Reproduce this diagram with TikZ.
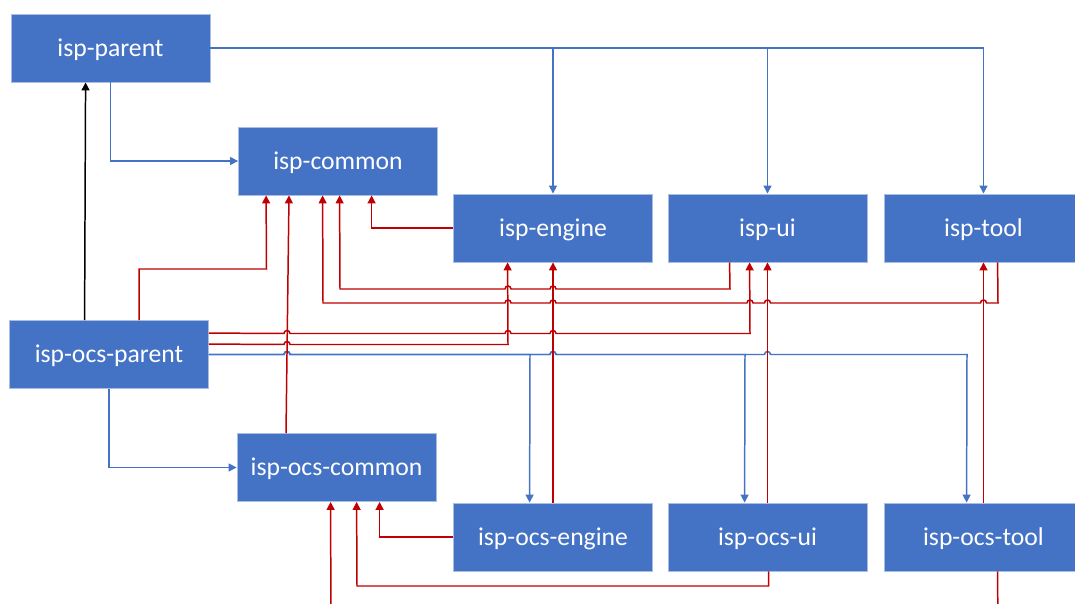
\documentclass[tikz,border=0pt]{standalone}
\usepackage{tikz}
\usepackage{xcolor}
\usepackage{fontspec}
\setmainfont{Carlito}
\usetikzlibrary{arrows.meta, positioning, calc}
\definecolor{boxblue}{RGB}{68,114,196}
\definecolor{boxedge}{RGB}{170,190,225}
\definecolor{linkblue}{RGB}{68,114,196}
\definecolor{linkred}{RGB}{192,0,0}
\tikzset{
    module/.style={rectangle, fill=boxblue, draw=boxedge, line width=0.5pt,
        minimum width=3.98cm, minimum height=1.36cm, inner sep=0pt,
        text height=12pt, text depth=2.4pt,
        text=white, font=\fontsize{14.6}{17}\selectfont},
    inherit/.style={draw=linkblue, line width=0.85pt, -{Triangle[length=4.5pt,width=4.5pt]}},
    depend/.style={draw=linkred, line width=0.85pt, -{Triangle[length=4.5pt,width=4.5pt]}},
    aggregate/.style={draw=black, line width=0.85pt, -{Triangle[length=4.5pt,width=4.5pt]}}
}

\begin{document}
\begin{tikzpicture}[x=0.02cm, y=-0.02cm]
    \useasboundingbox (0,0) rectangle (1075,604);
    \clip (0,0) rectangle (1075,604);

    % modules
    \node[module] (parent) at (110.5,48) {isp-parent};
    \node[module] (common) at (338,161) {isp-common};
    \node[module] (engine) at (553,228) {isp-engine};
    \node[module] (ui) at (767.5,228) {isp-ui};
    \node[module] (tool) at (983.5,228) {isp-tool};
    \node[module] (ocsparent) at (109,354.5) {isp-ocs-parent};
    \node[module] (ocscommon) at (336.5,467.5) {isp-ocs-common};
    \node[module] (ocsengine) at (553,537) {isp-ocs-engine};
    \node[module] (ocsui) at (767.5,537) {isp-ocs-ui};
    \node[module] (ocstool) at (983.5,537) {isp-ocs-tool};

    % isp-parent
    \draw[inherit] (parent.east) -| (engine.north);
    \draw[inherit] (parent.east) -| (ui.north);
    \draw[inherit] (parent.east) -| (tool.north);
    \draw[inherit] (parent.south) |- (common.west);

    % isp-ocs-parent
    \draw[aggregate] ($(ocsparent.north west)+(75.5,0)$) -- ($(parent.south west)+(75,0)$);
    \draw[inherit] (ocsparent.south) |- (ocscommon.west);
    \draw[inherit] (ocsparent.east) -- (284,354.5) arc[start angle=180, end angle=360, radius=3]
        -- (530,354.5) -- ($(ocsengine.north west)+(76.5,0)$);
    \draw[inherit] (ocsparent.east) -- (284,354.5) arc[start angle=180, end angle=360, radius=3]
        -- (550,354.5) arc[start angle=180, end angle=360, radius=3]
        -- (745,354.5) -- ($(ocsui.north west)+(77,0)$);
    \draw[inherit] (ocsparent.east) -- (284,354.5) arc[start angle=180, end angle=360, radius=3]
        -- (550,354.5) arc[start angle=180, end angle=360, radius=3]
        -- (764.5,354.5) arc[start angle=180, end angle=360, radius=3]
        -- (967,354.5) -- ($(ocstool.north west)+(83,0)$);
    \draw[depend] ($(ocsparent.north west)+(130,0)$) |- (266.5,269) -- ($(common.south west)+(28,0)$);
    \draw[depend] ($(ocsparent.north east)+(0,24)$) -- (284,344.5)
        arc[start angle=180, end angle=360, radius=3]
        -- (508,344.5) -- ($(engine.south west)+(54.5,0)$);
    \draw[depend] ($(ocsparent.north east)+(0,13)$) -- (284,333.5)
        arc[start angle=180, end angle=360, radius=3]
        -- (505,333.5) arc[start angle=180, end angle=360, radius=3]
        -- (550,333.5) arc[start angle=180, end angle=360, radius=3]
        -- (750,333.5) -- ($(ui.south west)+(82,0)$);

    % into isp-common
    \draw[depend] ($(ocscommon.north)+(-50.5,0)$) -- ($(common.south)+(-49,0)$);
    \draw[depend] (engine.west) -| ($(common.south west)+(133.5,0)$);
    \draw[depend] ($(ui.south west)+(62,0)$) -- (730,289)
        -- (556,289) arc[start angle=0, end angle=-180, radius=3]
        -- (511,289) arc[start angle=0, end angle=-180, radius=3]
        -- (340,289) -- ($(common.south west)+(101.5,0)$);
    \draw[depend] ($(tool.south west)+(114,0)$) -- (998,303)
        -- (986.5,303) arc[start angle=0, end angle=-180, radius=3]
        -- (770.5,303) arc[start angle=0, end angle=-180, radius=3]
        -- (753,303) arc[start angle=0, end angle=-180, radius=3]
        -- (556,303) arc[start angle=0, end angle=-180, radius=3]
        -- (511,303) arc[start angle=0, end angle=-180, radius=3]
        -- (323,303) -- ($(common.south west)+(84.5,0)$);

    % ocs modules
    \draw[depend] (ocsengine.north) -- (engine.south);
    \draw[depend] (ocsui.north) -- (ui.south);
    \draw[depend] (ocstool.north) -- (tool.south);
    \draw[depend] (ocsengine.west) -| ($(ocscommon.south west)+(143,0)$);
    \draw[depend] ($(ocsui.south west)+(101,0)$) |- (357,586) -- ($(ocscommon.south west)+(120,0)$);
    \draw[depend] ($(ocstool.south west)+(114,0)$) -- (998,640) -- (331,640) -- ($(ocscommon.south west)+(94,0)$);
\end{tikzpicture}
\end{document}
